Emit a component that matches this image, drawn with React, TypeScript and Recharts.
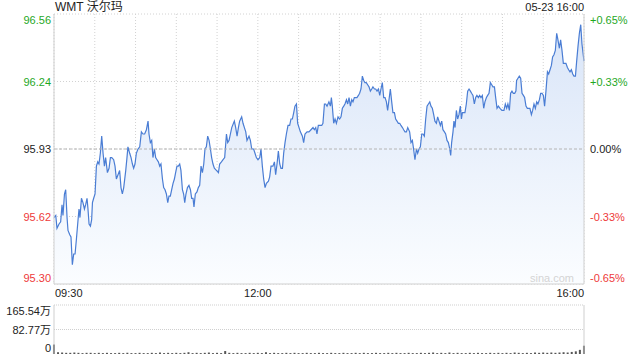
import {
  Area,
  AreaChart,
  Bar,
  BarChart,
  CartesianGrid,
  ReferenceLine,
  XAxis,
  YAxis,
} from 'recharts';

// minutes since 09:30 open
const minutes = [
  0, 1.3, 2.2, 3.7, 4.9, 5.9, 6.6, 7.7, 8.6, 9.6,
  10.3, 11.6, 12.5, 13.5, 14.5, 15.5, 16.5, 17.7, 18.4, 19.1,
  20.2, 21.3, 22.4, 23.3, 24.3, 25, 25.8, 26.8, 27.7, 28.3,
  29.2, 30.2, 31.2, 32.2, 33.1, 34.1, 35.1, 36.1, 37.1, 38,
  39.3, 40.5, 41.5, 42.5, 43.9, 44.9, 45.9, 47.1, 48.3, 49.3,
  50.3, 51.3, 52.8, 53.7, 54.4, 55.7, 56.7, 57.7, 58.6, 59.6,
  60.6, 61.8, 63.1, 64.3, 65.5, 66.7, 68, 69.2, 69.9, 70.9,
  71.9, 72.8, 73.9, 74.8, 75.8, 76.8, 77.8, 78.7, 79.8, 80.7,
  81.7, 82.7, 83.7, 84.6, 85.6, 86.6, 87.6, 88.6, 89.5, 90.5,
  91.5, 92.5, 93.4, 94.5, 95.4, 96.2, 97.1, 98.2, 99.3, 100.4,
  101.3, 102.3, 103, 104, 105.2, 106.2, 107.2, 108.2, 109.2, 110.2,
  111.1, 112.1, 113.1, 114.1, 115.1, 116, 117, 118, 119.5, 121,
  121.9, 123.2, 124.4, 125.6, 126.9, 127.8, 128.8, 129.8, 130.8, 132.7,
  133.7, 134.7, 135.7, 136.6, 138.1, 139.1, 140.1, 141.1, 142, 143.5,
  144.5, 145.5, 146.9, 147.9, 148.9, 150.1, 151.4, 152.3, 153.3, 154.3,
  155.3, 156.3, 157.8, 158.7, 159.7, 161.1, 162.2, 163.1, 164.1, 165.1,
  166.1, 167, 168.1, 169, 170, 171, 172.2, 173.4, 174.4, 175.4,
  176.4, 177.3, 178.4, 179.3, 180.3, 181.3, 182.8, 183.7, 184.7, 186.2,
  187.6, 189.1, 190.6, 191.6, 192.6, 193.5, 194.5, 195.5, 197, 197.9,
  199, 199.9, 200.9, 202.3, 203.4, 204.1, 204.8, 205.8, 206.8, 207.8,
  209, 210.2, 211.2, 212.2, 213.2, 214.1, 215.2, 216.1, 217.1, 218.1,
  219.1, 220, 221, 222, 222.9, 224, 224.9, 225.9, 226.9, 227.9,
  228.8, 229.8, 230.8, 231.8, 232.8, 233.8, 234.7, 235.8, 236.7, 237.7,
  238.7, 239.7, 240.6, 241.6, 242.6, 243.6, 244.6, 245.5, 246.5, 247.5,
  248.5, 249.4, 250.5, 251.4, 252.4, 253.4, 254.4, 255.3, 256.4, 257.3,
  258.3, 259.3, 260.3, 261.7, 262.7, 263.7, 264.6, 265.6, 266.7, 267.6,
  268.6, 269.6, 270.6, 271.5, 272.5, 273.5, 274.5, 275.5, 276.5, 277.4,
  278.4, 279.4, 280.3, 281.4, 282.3, 283.3, 284.3, 285.3, 286.2, 287.3,
  288.2, 289.2, 290.2, 291.2, 291.9, 292.6, 293.6, 294.3, 295.1, 296.1,
  297, 298, 299, 299.8, 300.5, 301.5, 302.4, 303.4, 304.4, 305.4,
  306.4, 307.3, 308.3, 309.3, 310.3, 311.2, 312.3, 313.2, 314.2, 315.2,
  316.2, 317.1, 318.2, 319.1, 320.1, 321.1, 322.1, 323, 324.1, 325,
  326, 327, 328.2, 329.6, 331.1, 332.1, 333.1, 334, 335.1, 336,
  337, 338, 339, 339.9, 340.4, 341.4, 342.4, 343.4, 344.4, 345.4,
  346.3, 347.3, 348.3, 349.3, 350.2, 351.3, 352.2, 353.2, 354.2, 355.2,
  356.1, 357.2, 358.1, 359.1, 360.1, 361, 362, 363.1, 364, 365,
  366, 366.9, 367.9, 368.9, 369.9, 370.8, 371.9, 372.8, 373.8, 374.8,
  375.8, 376.7, 377.8, 378.7, 379.7, 380.7, 381.7, 382.6, 383.7, 384.6,
  385.6, 386.6, 387.6, 388.5, 390,
];

const prices = [
  95.61, 95.62, 95.56, 95.58, 95.59, 95.67, 95.62, 95.72, 95.74, 95.61,
  95.55, 95.53, 95.52, 95.39, 95.44, 95.44, 95.51, 95.6, 95.65, 95.61,
  95.7, 95.68, 95.65, 95.67, 95.7, 95.65, 95.58, 95.57, 95.6, 95.68,
  95.7, 95.72, 95.85, 95.87, 95.86, 95.91, 95.99, 95.91, 95.85, 95.89,
  95.82, 95.84, 95.89, 95.89, 95.88, 95.85, 95.79, 95.81, 95.83, 95.75,
  95.72, 95.75, 95.83, 95.89, 95.94, 95.91, 95.89, 95.86, 95.84, 95.86,
  95.91, 95.93, 95.94, 96.01, 96.0, 96.0, 96.02, 96.06, 96.0, 95.96,
  95.97, 95.89, 95.93, 95.89, 95.88, 95.87, 95.85, 95.86, 95.79, 95.75,
  95.74, 95.72, 95.68, 95.71, 95.71, 95.74, 95.77, 95.79, 95.82, 95.85,
  95.85, 95.86, 95.83, 95.74, 95.72, 95.68, 95.72, 95.75, 95.76, 95.74,
  95.7, 95.7, 95.66, 95.72, 95.73, 95.75, 95.76, 95.85, 95.82, 95.86,
  95.93, 95.94, 95.99, 95.97, 95.93, 95.89, 95.86, 95.84, 95.83, 95.82,
  95.86, 95.87, 95.88, 95.89, 96.0, 95.96, 95.97, 96.0, 96.03, 96.06,
  96.03, 95.99, 96.03, 96.06, 96.08, 96.05, 96.03, 96.01, 95.97, 95.99,
  95.97, 95.93, 95.93, 95.91, 95.89, 95.88, 95.89, 95.93, 95.85, 95.79,
  95.75, 95.77, 95.78, 95.8, 95.85, 95.85, 95.87, 95.81, 95.86, 95.92,
  95.86, 95.84, 95.84, 95.91, 95.96, 96.0, 96.04, 96.04, 96.07, 96.07,
  96.1, 96.13, 96.14, 96.05, 96.03, 96.01, 95.99, 95.96, 96.0, 96.01,
  96.01, 96.02, 96.03, 96.02, 96.03, 96.0, 96.04, 96.04, 96.04, 96.05,
  96.14, 96.14, 96.13, 96.15, 96.13, 96.17, 96.13, 96.05, 96.07, 96.05,
  96.08, 96.07, 96.08, 96.12, 96.13, 96.14, 96.16, 96.14, 96.17, 96.13,
  96.16, 96.15, 96.17, 96.17, 96.17, 96.18, 96.19, 96.21, 96.27, 96.25,
  96.24, 96.24, 96.23, 96.22, 96.2, 96.21, 96.22, 96.21, 96.21, 96.2,
  96.21, 96.18, 96.21, 96.24, 96.17, 96.17, 96.15, 96.11, 96.16, 96.21,
  96.15, 96.1, 96.1, 96.07, 96.06, 96.05, 96.05, 96.04, 96.03, 96.02,
  96.01, 96.01, 96.03, 96.01, 95.96, 95.97, 95.93, 95.88, 95.93, 95.91,
  95.93, 95.94, 96.0, 96.0, 95.99, 96.07, 96.13, 96.14, 96.15, 96.13,
  96.12, 96.09, 96.06, 96.05, 96.08, 96.06, 96.04, 96.06, 96.02, 96.01,
  96.0, 95.97, 95.96, 95.93, 95.9, 95.96, 96.01, 96.06, 96.03, 96.11,
  96.07, 96.09, 96.13, 96.07, 96.1, 96.1, 96.1, 96.14, 96.2, 96.21,
  96.2, 96.19, 96.18, 96.14, 96.17, 96.18, 96.17, 96.18, 96.17, 96.18,
  96.12, 96.15, 96.17, 96.18, 96.19, 96.24, 96.23, 96.22, 96.22, 96.17,
  96.12, 96.13, 96.12, 96.11, 96.11, 96.14, 96.12, 96.14, 96.11, 96.19,
  96.2, 96.19, 96.19, 96.2, 96.25, 96.26, 96.27, 96.26, 96.19, 96.18,
  96.17, 96.13, 96.12, 96.12, 96.12, 96.09, 96.11, 96.14, 96.12, 96.15,
  96.14, 96.16, 96.19, 96.19, 96.18, 96.13, 96.2, 96.29, 96.28, 96.3,
  96.32, 96.36, 96.37, 96.39, 96.47, 96.44, 96.4, 96.44, 96.39, 96.33,
  96.33, 96.33, 96.31, 96.3, 96.29, 96.3, 96.28, 96.27, 96.27, 96.34,
  96.41, 96.47, 96.51, 96.42, 96.34,
];

const prevClose = 95.93;
const priceTicks = [95.3, 95.615, 95.93, 96.245, 96.56];
const priceLabels = ['95.30', '95.62', '95.93', '96.24', '96.56'];
const pctLabels = ['-0.65%', '-0.33%', '0.00%', '+0.33%', '+0.65%'];

const timeTicks = [0, 30, 60, 90, 120, 150, 180, 210, 240, 270, 300, 330, 360, 390];
const timeLabelMinutes = [0, 150, 390];
const timeLabels = ['09:30', '12:00', '16:00'];

// volume in 万 shares, one bar every 3 minutes
const volumes = [
  32,
  6, 5, 4, 4, 5, 4, 3, 4, 4, 3,
  4, 3, 4, 3, 3, 4, 3, 4, 3, 3,
  4, 3, 3, 4, 3, 5, 3, 4, 3, 4,
  3, 4, 6, 3, 4, 3, 4, 5, 3, 4,
  3, 10, 4, 3, 4, 3, 3, 4, 3, 4,
  3, 6, 3, 4, 3, 3, 4, 3, 4, 3,
  3, 4, 3, 3, 4, 3, 3, 4, 3, 3,
  4, 3, 3, 4, 3, 4, 3, 3, 4, 3,
  3, 4, 3, 4, 3, 3, 4, 3, 3, 4,
  3, 4, 5, 3, 4, 3, 5, 3, 4, 3,
  3, 4, 3, 4, 3, 3, 4, 3, 4, 3,
  4, 3, 5, 4, 3, 4, 3, 5, 4, 5,
  4, 5, 4, 5, 6, 5, 7, 9, 14, 28,
];
const volumeTicks = [0, 82.77, 165.54];
const volumeLabels = ['0', '82.77万', '165.54万'];

const FONT = '"Liberation Sans", Arial, "Noto Sans CJK SC", sans-serif';
const GREEN = '#1fa81f';
const RED = '#ee3a3a';
const DARK = '#222';
const LINE = '#4a7dd4';

const priceData = minutes.map((t, i) => ({ t, p: prices[i] }));
const volumeData = volumes.map((v, i) => ({ t: i * 3, v }));

function findTick(list: number[], value: number) {
  return list.findIndex((x) => Math.abs(x - value) < 1e-6);
}

function edgeShift(i: number, count: number) {
  if (i === 0) return -6;
  if (i === count - 1) return 6;
  return 0;
}

function colorFor(v: number) {
  if (Math.abs(v - prevClose) < 1e-6) return DARK;
  return v > prevClose ? GREEN : RED;
}

function PriceTick(props: any) {
  const { y, payload } = props;
  const i = findTick(priceTicks, payload.value);
  if (i < 0) return <g />;
  return (
    <text
      x={51}
      y={y + edgeShift(i, priceTicks.length)}
      textAnchor="end"
      dominantBaseline="central"
      fontSize={11}
      fontFamily={FONT}
      fill={colorFor(priceTicks[i])}
    >
      {priceLabels[i]}
    </text>
  );
}

function PctTick(props: any) {
  const { y, payload } = props;
  const i = findTick(priceTicks, payload.value);
  if (i < 0) return <g />;
  return (
    <text
      x={590}
      y={y + edgeShift(i, priceTicks.length)}
      textAnchor="start"
      dominantBaseline="central"
      fontSize={11}
      fontFamily={FONT}
      fill={colorFor(priceTicks[i])}
    >
      {pctLabels[i]}
    </text>
  );
}

function TimeTick(props: any) {
  const { x, payload } = props;
  const i = timeLabelMinutes.indexOf(payload.value);
  if (i < 0) return <g />;
  const anchor = i === 0 ? 'start' : i === timeLabels.length - 1 ? 'end' : 'middle';
  return (
    <text
      x={i === 0 ? x + 1 : x}
      y={293}
      textAnchor={anchor}
      dominantBaseline="central"
      fontSize={11}
      fontFamily={FONT}
      fill={DARK}
    >
      {timeLabels[i]}
    </text>
  );
}

function VolumeTick(props: any) {
  const { y, payload } = props;
  const i = findTick(volumeTicks, payload.value);
  if (i < 0) return <g />;
  return (
    <text
      x={51}
      y={y + edgeShift(i, volumeTicks.length)}
      textAnchor="end"
      dominantBaseline="central"
      fontSize={11}
      fontFamily={FONT}
      fill={DARK}
    >
      {volumeLabels[i]}
    </text>
  );
}

export default function App() {
  return (
    <div
      style={{
        position: 'absolute',
        left: 0,
        top: 0,
        width: 640,
        height: 360,
        background: '#fff',
        fontFamily: FONT,
      }}
    >
      <div style={{ position: 'absolute', left: 55, top: 0, fontSize: 12, lineHeight: '14px', color: DARK }}>
        WMT 沃尔玛
      </div>
      <div style={{ position: 'absolute', right: 56, top: 0, fontSize: 11, lineHeight: '14px', color: DARK }}>
        05-23 16:00
      </div>

      <div style={{ position: 'absolute', left: 0, top: 0 }}>
        <AreaChart width={640} height={300} data={priceData} margin={{ top: 14, right: 0, bottom: 0, left: 0 }}>
          <defs>
            <linearGradient id="wmtFill" x1="0" y1="0" x2="0" y2="1">
              <stop offset="0%" stopColor="#d9e5f8" />
              <stop offset="100%" stopColor="#fbfdff" />
            </linearGradient>
          </defs>
          <CartesianGrid stroke="#d2d2d2" strokeDasharray="1 2" />
          <XAxis
            dataKey="t"
            type="number"
            domain={[0, 390]}
            ticks={timeTicks}
            interval={0}
            height={16}
            tickLine={false}
            axisLine={{ stroke: '#cfcfcf' }}
            tick={TimeTick}
          />
          <XAxis
            xAxisId="top"
            orientation="top"
            type="number"
            domain={[0, 390]}
            height={0}
            tick={false}
            tickLine={false}
            axisLine={{ stroke: '#cfcfcf' }}
          />
          <YAxis
            type="number"
            domain={[95.3, 96.56]}
            ticks={priceTicks}
            interval={0}
            allowDataOverflow
            width={54}
            tickLine={false}
            axisLine={{ stroke: '#cfcfcf' }}
            tick={PriceTick}
          />
          <YAxis
            yAxisId="pct"
            orientation="right"
            type="number"
            domain={[95.3, 96.56]}
            ticks={priceTicks}
            interval={0}
            allowDataOverflow
            width={56}
            tickLine={false}
            axisLine={{ stroke: '#cfcfcf' }}
            tick={PctTick}
          />
          <ReferenceLine y={prevClose} stroke="#b4b4b4" strokeDasharray="3 2" />
          <Area
            type="linear"
            dataKey="p"
            stroke={LINE}
            strokeWidth={1.2}
            fill="url(#wmtFill)"
            fillOpacity={1}
            dot={false}
            activeDot={false}
            isAnimationActive={false}
          />
        </AreaChart>
      </div>

      <div
        style={{
          position: 'absolute',
          left: 530,
          top: 271,
          fontSize: 11,
          lineHeight: '14px',
          color: '#d4d4d4',
        }}
      >
        sina.com
      </div>

      <div style={{ position: 'absolute', left: 0, top: 300 }}>
        <BarChart width={640} height={60} data={volumeData} margin={{ top: 5, right: 56, bottom: 6, left: 0 }}>
          <XAxis dataKey="t" type="number" domain={[0, 390]} hide />
          <YAxis
            type="number"
            domain={[0, 165.54]}
            ticks={volumeTicks}
            interval={0}
            width={54}
            tickLine={false}
            axisLine={{ stroke: '#cfcfcf' }}
            tick={VolumeTick}
          />
          <ReferenceLine y={165.54} stroke="#cfcfcf" strokeDasharray="1 1" />
          <ReferenceLine y={82.77} stroke="#cfcfcf" strokeDasharray="1 1" />
          <ReferenceLine x={390} stroke="#cfcfcf" />
          <Bar dataKey="v" fill="#555" barSize={2} isAnimationActive={false} />
        </BarChart>
      </div>
    </div>
  );
}
